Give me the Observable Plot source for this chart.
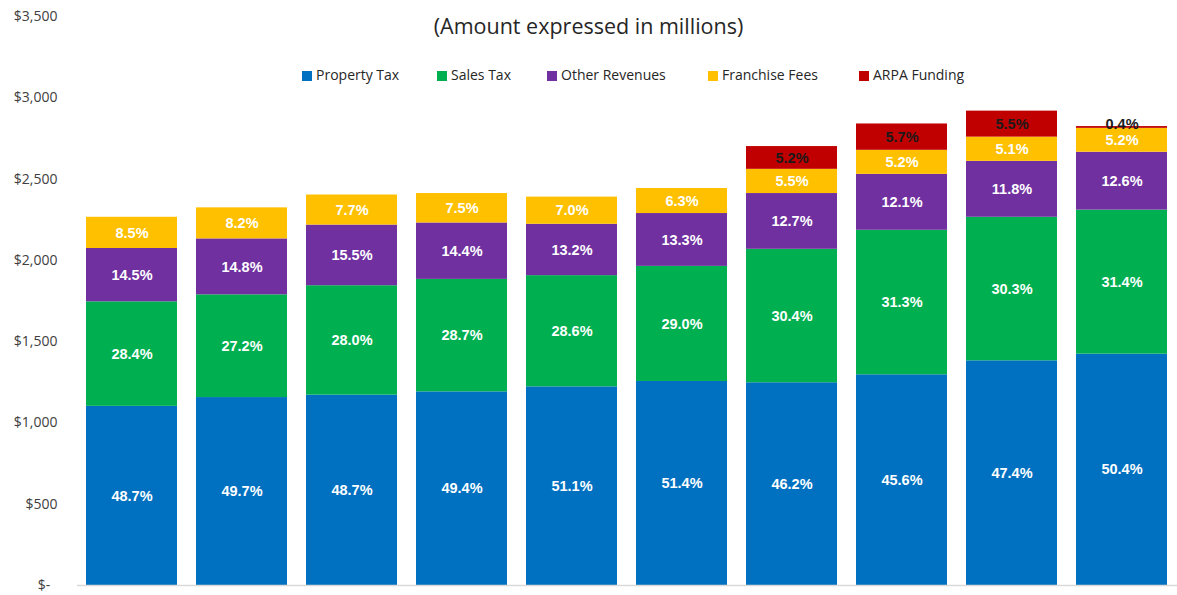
<!DOCTYPE html>
<html>
<head>
<meta charset="utf-8">
<script src="https://cdn.jsdelivr.net/npm/d3@7"></script>
<script src="https://cdn.jsdelivr.net/npm/@observablehq/plot@0.6"></script>
<style>
  html, body { margin: 0; padding: 0; background: #fff; }
  #wrap { position: relative; width: 1177px; height: 595px; overflow: hidden; }
  #title { position: absolute; left: 0; width: 1177px; top: 11px; text-align: center;
    font-family: "Open Sans", sans-serif; font-size: 21.5px; color: #262626; }
  #legend { position: absolute; top: 66px; left: 0; width: 1177px; height: 20px;
    font-family: "Open Sans", sans-serif; font-size: 14px; color: #262626; }
  .li { position: absolute; white-space: nowrap; line-height: 18px; }
  .sw { display: inline-block; width: 10px; height: 10px; margin-right: 4px; vertical-align: -1px; }
  svg { position: absolute; left: 0; top: 0; }
</style>
</head>
<body>
<div id="wrap">
  <div id="chart"></div>
  <div id="title">(Amount expressed in millions)</div>
  <div id="legend"></div>
</div>
<script>
const years = ["FY 2016", "FY 2017", "FY 2018", "FY 2019", "FY 2020", "FY 2021", "FY 2022", "FY 2023", "FY 2024", "FY 2025"];
const seriesNames = ["Property Tax", "Sales Tax", "Other Revenues", "Franchise Fees", "ARPA Funding"];
const seriesColors = ["#0070C0", "#00B050", "#7030A0", "#FFC000", "#C00000"];

const propertyTax   = [1102, 1156, 1171, 1191, 1222, 1255, 1247, 1296, 1382, 1423];
const salesTax      = [643, 632, 673, 692, 684, 708, 821, 889, 883, 886];
const otherRevenues = [328, 344, 373, 347, 316, 325, 343, 344, 344, 356];
const franchiseFees = [192, 191, 185, 181, 167, 154, 149, 148, 149, 147];
const arpaFunding   = [0, 0, 0, 0, 0, 0, 140, 162, 160, 11];

const propertyTaxPct   = ["48.7%", "49.7%", "48.7%", "49.4%", "51.1%", "51.4%", "46.2%", "45.6%", "47.4%", "50.4%"];
const salesTaxPct      = ["28.4%", "27.2%", "28.0%", "28.7%", "28.6%", "29.0%", "30.4%", "31.3%", "30.3%", "31.4%"];
const otherRevenuesPct = ["14.5%", "14.8%", "15.5%", "14.4%", "13.2%", "13.3%", "12.7%", "12.1%", "11.8%", "12.6%"];
const franchiseFeesPct = ["8.5%", "8.2%", "7.7%", "7.5%", "7.0%", "6.3%", "5.5%", "5.2%", "5.1%", "5.2%"];
const arpaFundingPct   = ["", "", "", "", "", "", "5.2%", "5.7%", "5.5%", "0.4%"];

const yTicks = [0, 500, 1000, 1500, 2000, 2500, 3000, 3500];

const valueSets = [propertyTax, salesTax, otherRevenues, franchiseFees, arpaFunding];
const pctSets = [propertyTaxPct, salesTaxPct, otherRevenuesPct, franchiseFeesPct, arpaFundingPct];

const data = [];
years.forEach((yr, i) => {
  seriesNames.forEach((s, j) => {
    const v = valueSets[j][i];
    if (v > 0) data.push({year: yr, series: s, value: v, label: pctSets[j][i]});
  });
});

const fmt = d => d === 0 ? "$-\u00a0\u00a0" : "$" + d3.format(",")(d);
const labelFont = "'Liberation Sans', Arial, sans-serif";
const labelFill = d => d.series === "ARPA Funding" ? "#1a1a1a" : "#ffffff";

const chart = Plot.plot({
  width: 1177,
  height: 595,
  marginTop: 16,
  marginBottom: 10,
  marginLeft: 77,
  marginRight: 0,
  style: {fontFamily: "'Open Sans', sans-serif", background: "transparent"},
  x: {domain: years, paddingInner: 0.17, paddingOuter: 0.08, axis: null},
  y: {domain: [0, 3500], ticks: yTicks, tickFormat: fmt, tickSize: 0, tickPadding: 20, label: null},
  color: {domain: seriesNames, range: seriesColors},
  marks: [
    Plot.axisY({ticks: yTicks, tickFormat: fmt, tickSize: 0, tickPadding: 20, label: null,
      fontSize: 14, color: "#404040"}),
    Plot.barY(data, {x: "year", y: "value", fill: "series", z: "series", order: seriesNames}),
    Plot.ruleY([0], {stroke: "#d9d9d9", strokeWidth: 1.5}),
    // labels centred in their segments
    Plot.text(data, Plot.stackY({x: "year", y: "value", z: "series", order: seriesNames,
      text: d => d.value >= 50 ? d.label : "",
      fill: labelFill, fontSize: 14.5, fontWeight: "bold", fontFamily: labelFont})),
    // thin segments: label sits just above the segment
    Plot.text(data, Plot.stackY2({x: "year", y: "value", z: "series", order: seriesNames,
      text: d => d.value < 50 ? d.label : "",
      fill: labelFill, fontSize: 14.5, fontWeight: "bold", fontFamily: labelFont,
      lineAnchor: "bottom", dy: 2}))
  ]
});
document.getElementById("chart").appendChild(chart);

const legendX = [302, 437, 547, 708, 859];
const legend = document.getElementById("legend");
seriesNames.forEach((s, j) => {
  const el = document.createElement("div");
  el.className = "li";
  el.style.left = legendX[j] + "px";
  el.innerHTML = `<span class="sw" style="background:${seriesColors[j]}"></span>${s}`;
  legend.appendChild(el);
});
</script>
</body>
</html>
